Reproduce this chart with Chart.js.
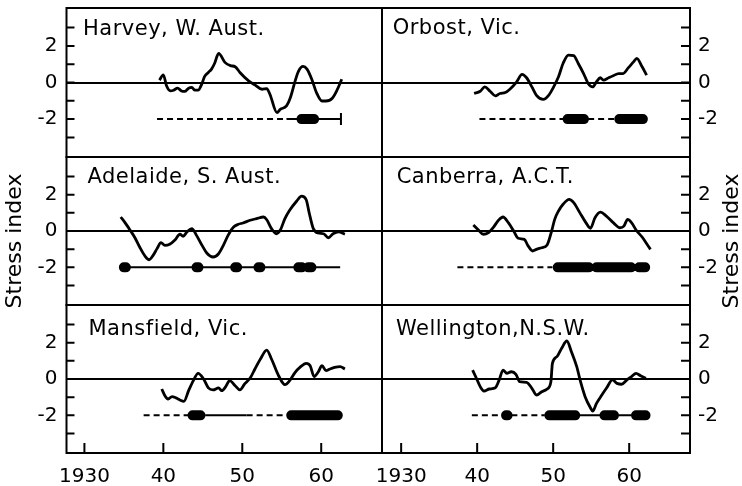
<!DOCTYPE html>
<html>
<head>
<meta charset="utf-8">
<script src="https://cdn.jsdelivr.net/npm/chart.js@4/dist/chart.umd.min.js"></script>
<style>
  html, body { margin: 0; padding: 0; background: #fff; }
  #wrap { position: relative; width: 742px; height: 486px; overflow: hidden; background: #fff; }
  #wrap canvas { position: absolute; left: 0; top: 0; }
</style>
</head>
<body>
<div id="wrap"></div>
<script>
// ticks
const xTickValues = [1930, 1940, 1950, 1960];
const xTickLabels = ['1930', '40', '50', '60'];
const yTickValues = [-3, -2, -1, 0, 1, 2, 3];
const yLabelValues = [-2, 0, 2];
const barLevel = -2;
const axisTitle = 'Stress index';

const panelNames = ['Harvey, W. Aust.', 'Orbost, Vic.', 'Adelaide, S. Aust.',
                    'Canberra, A.C.T.', 'Mansfield, Vic.', 'Wellington,N.S.W.'];

// Harvey
const harveyYears = [1939.5, 1940.0, 1940.4, 1940.9, 1941.3, 1941.8, 1942.3, 1942.7, 1943.2, 1943.6, 1944.0, 1944.4, 1944.9, 1945.2, 1945.7, 1946.1, 1946.5, 1947.0, 1947.8, 1948.5, 1949.1, 1949.7, 1950.8, 1951.6, 1952.5, 1953.1, 1953.5, 1954.4, 1954.8, 1955.6, 1956.1, 1956.7, 1957.1, 1957.7, 1958.2, 1958.8, 1959.4, 1960.1, 1960.6, 1961.4, 1962.0, 1962.6];
const harveyIndex = [0.13, 0.42, -0.18, -0.46, -0.42, -0.31, -0.46, -0.49, -0.31, -0.27, -0.42, -0.42, -0.05, 0.31, 0.55, 0.73, 1.05, 1.59, 1.10, 0.92, 0.86, 0.55, 0.09, -0.13, -0.37, -0.33, -0.64, -1.65, -1.47, -1.28, -0.82, 0.09, 0.60, 0.88, 0.73, 0.18, -0.55, -1.01, -1.01, -0.86, -0.42, 0.18];
const harveyDashed = [[1939.2, 1955.6]];
const harveySolid = [[1955.6, 1962.5]];
const harveyThick = [[1957.5, 1959.1]];
const harveyEnds = [1962.5];

// Orbost
const orbostYears = [1939.6, 1940.4, 1941.0, 1941.7, 1942.4, 1943.0, 1943.7, 1944.3, 1945.2, 1945.9, 1946.5, 1947.2, 1947.8, 1948.7, 1949.4, 1950.0, 1950.7, 1951.3, 1952.0, 1952.7, 1953.3, 1954.0, 1954.6, 1955.2, 1955.7, 1956.2, 1956.6, 1957.3, 1957.9, 1958.6, 1959.2, 1959.9, 1960.6, 1961.0, 1961.7, 1962.3];
const orbostIndex = [-0.60, -0.48, -0.24, -0.48, -0.73, -0.60, -0.55, -0.37, 0.04, 0.44, 0.26, -0.24, -0.70, -0.92, -0.70, -0.29, 0.31, 1.04, 1.50, 1.47, 1.04, 0.49, -0.05, -0.24, 0.04, 0.26, 0.13, 0.26, 0.37, 0.49, 0.49, 0.81, 1.14, 1.32, 0.86, 0.40];
const orbostDashed = [[1940.3, 1951.4], [1954.6, 1958.1]];
const orbostSolid = [];
const orbostThick = [[1951.9, 1954.05], [1958.7, 1961.8]];
const orbostEnds = [];

// Adelaide
const adelaideYears = [1934.6, 1935.1, 1935.8, 1936.4, 1937.0, 1937.7, 1938.2, 1938.7, 1939.2, 1939.7, 1940.2, 1940.8, 1941.5, 1942.1, 1942.5, 1943.0, 1943.6, 1944.2, 1944.9, 1945.5, 1946.3, 1947.0, 1947.6, 1948.2, 1948.9, 1949.5, 1950.1, 1951.0, 1951.8, 1952.7, 1953.1, 1953.7, 1954.3, 1954.8, 1955.4, 1956.0, 1956.9, 1957.5, 1958.1, 1958.5, 1959.0, 1959.6, 1960.3, 1960.9, 1961.5, 1962.2, 1963.0];
const adelaideIndex = [0.77, 0.49, 0.04, -0.37, -0.88, -1.39, -1.58, -1.34, -0.97, -0.64, -0.79, -0.73, -0.48, -0.18, -0.29, -0.05, 0.13, -0.24, -0.79, -1.21, -1.43, -1.25, -0.79, -0.24, 0.22, 0.37, 0.44, 0.59, 0.68, 0.77, 0.62, 0.13, -0.15, 0.04, 0.68, 1.14, 1.65, 1.92, 1.72, 0.95, 0.13, -0.11, -0.15, -0.37, -0.15, -0.05, -0.18];
const adelaideDashed = [];
const adelaideSolid = [[1934.7, 1962.4]];
const adelaideThick = [[1935.0, 1935.25], [1944.2, 1944.45], [1949.1, 1949.35], [1952.05, 1952.3], [1957.1, 1957.55], [1958.35, 1958.76]];
const adelaideEnds = [];

// Canberra
const canberraYears = [1939.5, 1940.2, 1940.8, 1941.5, 1942.1, 1942.8, 1943.4, 1944.1, 1944.8, 1945.4, 1946.2, 1946.7, 1947.3, 1947.8, 1948.5, 1949.2, 1949.8, 1950.2, 1950.7, 1951.3, 1952.1, 1952.7, 1953.5, 1954.3, 1954.9, 1955.5, 1956.2, 1957.0, 1957.9, 1958.8, 1959.3, 1959.8, 1960.3, 1961.0, 1961.7, 1962.3, 1962.8];
const canberraIndex = [0.33, 0.04, -0.18, -0.09, 0.18, 0.59, 0.77, 0.46, 0, -0.40, -0.46, -0.82, -1.10, -1.01, -0.92, -0.77, 0, 0.64, 1.10, 1.47, 1.74, 1.56, 1.01, 0.46, 0.15, 0.73, 1.04, 0.82, 0.46, 0.18, 0.27, 0.64, 0.46, 0, -0.33, -0.70, -1.01];
const canberraDashed = [[1937.4, 1949.9]];
const canberraSolid = [];
const canberraThick = [[1950.6, 1954.7], [1955.7, 1960.25], [1961.3, 1962.1]];
const canberraEnds = [];

// Mansfield
const mansfieldYears = [1939.8, 1940.2, 1940.6, 1941.1, 1941.6, 1942.1, 1942.6, 1943.2, 1943.8, 1944.4, 1945.1, 1945.7, 1946.3, 1947.0, 1947.4, 1947.9, 1948.4, 1949.1, 1949.7, 1950.3, 1951.0, 1951.6, 1952.3, 1953.1, 1953.7, 1954.6, 1955.4, 1956.0, 1956.7, 1957.3, 1958.1, 1958.6, 1959.1, 1959.6, 1960.1, 1960.6, 1961.1, 1961.7, 1962.4, 1963.0];
const mansfieldIndex = [-0.55, -0.92, -1.10, -0.97, -1.04, -1.15, -1.23, -0.64, -0.09, 0.31, 0, -0.49, -0.60, -0.49, -0.64, -0.42, -0.09, -0.37, -0.60, -0.27, 0.05, 0.55, 1.10, 1.59, 1.10, 0.18, -0.31, -0.09, 0.37, 0.64, 0.86, 0.73, 0.13, 0.37, 0.73, 0.46, 0.55, 0.64, 0.68, 0.55];
const mansfieldDashed = [[1937.5, 1943.2], [1950.55, 1955.6]];
const mansfieldSolid = [[1945.3, 1950.55]];
const mansfieldThick = [[1943.7, 1944.7], [1956.2, 1962.1]];
const mansfieldEnds = [];

// Wellington
const wellingtonYears = [1939.4, 1939.9, 1940.4, 1940.9, 1941.6, 1942.4, 1942.9, 1943.4, 1943.9, 1944.5, 1945.1, 1945.6, 1946.5, 1947.2, 1947.8, 1948.5, 1949.2, 1949.7, 1949.9, 1950.5, 1951.1, 1951.8, 1952.4, 1953.1, 1953.6, 1954.2, 1954.9, 1955.2, 1955.7, 1956.4, 1957.0, 1957.8, 1958.4, 1959.0, 1959.7, 1960.3, 1960.9, 1961.5, 1962.2];
const wellingtonIndex = [0.49, 0.04, -0.42, -0.66, -0.55, -0.48, -0.05, 0.49, 0.31, 0.40, 0.26, -0.15, -0.18, -0.51, -0.88, -0.70, -0.55, -0.15, 0.86, 1.23, 1.68, 2.09, 1.50, 0.68, -0.15, -0.97, -1.58, -1.76, -1.34, -0.88, -0.51, -0.05, -0.24, -0.29, -0.05, 0.13, 0.31, 0.18, 0.04];
const wellingtonDashed = [[1939.3, 1943.2], [1944.5, 1948.9]];
const wellingtonSolid = [[1953.45, 1956.16], [1958.58, 1960.33]];
const wellingtonThick = [[1943.8, 1944.0], [1949.5, 1952.9], [1956.75, 1958.0], [1960.9, 1962.15]];
const wellingtonEnds = [];

const panels = [
  { years: harveyYears, index: harveyIndex, dashed: harveyDashed, solid: harveySolid, thick: harveyThick, ends: harveyEnds },
  { years: orbostYears, index: orbostIndex, dashed: orbostDashed, solid: orbostSolid, thick: orbostThick, ends: orbostEnds },
  { years: adelaideYears, index: adelaideIndex, dashed: adelaideDashed, solid: adelaideSolid, thick: adelaideThick, ends: adelaideEnds },
  { years: canberraYears, index: canberraIndex, dashed: canberraDashed, solid: canberraSolid, thick: canberraThick, ends: canberraEnds },
  { years: mansfieldYears, index: mansfieldIndex, dashed: mansfieldDashed, solid: mansfieldSolid, thick: mansfieldThick, ends: mansfieldEnds },
  { years: wellingtonYears, index: wellingtonIndex, dashed: wellingtonDashed, solid: wellingtonSolid, thick: wellingtonThick, ends: wellingtonEnds }
];

// layout (pixels)
const W = 742, H = 486;
const colEdges = [[66.5, 382], [382, 690]];
const rowEdges = [[8, 157], [157, 305], [305, 453]];
const colRange = [[1927.73, 1967.7], [1927.48, 1968.0]];
const titleOffsets = [[16.5, 26.5], [10.7, 26.3], [21, 26.3], [14.7, 25.7], [22, 30], [14, 30]];
const FONT = '"DejaVu Sans", "Liberation Sans", sans-serif';

Chart.defaults.font.family = FONT;
Chart.defaults.font.size = 20;
Chart.defaults.color = '#000';

function spanData(spans) {
  const pts = [];
  spans.forEach(([a, b]) => {
    pts.push({ x: a, y: barLevel }, { x: b, y: barLevel }, { x: b, y: null });
  });
  return pts;
}

// frame, inward ticks and texts
const panelDecor = {
  id: 'panelDecor',
  afterDraw(chart, args, opts) {
    const { ctx, chartArea: a, scales } = chart;
    ctx.save();
    ctx.strokeStyle = '#000';
    ctx.lineWidth = 2;
    ctx.strokeRect(a.left, a.top, a.right - a.left, a.bottom - a.top);
    ctx.beginPath();
    yTickValues.forEach(v => {
      const py = scales.y.getPixelForValue(v);
      if (opts.side === 'left') { ctx.moveTo(a.left, py); ctx.lineTo(a.left + 8, py); }
      else { ctx.moveTo(a.right, py); ctx.lineTo(a.right - 9, py); }
    });
    if (opts.showX) {
      xTickValues.forEach(v => {
        const px = scales.x.getPixelForValue(v);
        ctx.moveTo(px, a.bottom);
        ctx.lineTo(px, a.bottom - 10);
      });
    }
    ctx.stroke();

    ctx.fillStyle = '#000';
    ctx.font = '21px ' + FONT;
    if ('letterSpacing' in ctx) ctx.letterSpacing = '0.5px';
    ctx.textAlign = 'left';
    ctx.textBaseline = 'alphabetic';
    ctx.fillText(opts.title, a.left + opts.tx, a.top + opts.ty);

    if (opts.axisTitle) {
      if ('letterSpacing' in ctx) ctx.letterSpacing = '0px';
      ctx.font = '22px ' + FONT;
      ctx.textAlign = 'center';
      ctx.textBaseline = 'middle';
      const ax = opts.side === 'left' ? a.left - 51.5 : a.right + 42;
      ctx.translate(ax, a.top + 84);
      ctx.rotate(-Math.PI / 2);
      ctx.fillText(axisTitle, 0, 0);
    }
    ctx.restore();
  }
};

const wrap = document.getElementById('wrap');

panels.forEach((p, i) => {
  const col = i % 2, row = Math.floor(i / 2);
  const side = col === 0 ? 'left' : 'right';
  const bottomRow = row === 2;
  const canvas = document.createElement('canvas');
  canvas.width = W;
  canvas.height = H;
  wrap.appendChild(canvas);

  const curve = p.years.map((x, k) => ({ x: x, y: p.index[k] }));

  new Chart(canvas, {
    type: 'line',
    data: {
      datasets: [
        { data: curve, borderColor: '#000', borderWidth: 2.8, pointRadius: 0,
          cubicInterpolationMode: 'monotone' },
        { data: spanData(p.thick), borderColor: '#000', borderWidth: 10,
          borderCapStyle: 'round', pointRadius: 0, tension: 0 },
        { data: spanData(p.solid), borderColor: '#000', borderWidth: 2, pointRadius: 0, tension: 0 },
        { data: spanData(p.dashed), borderColor: '#000', borderWidth: 2, borderDash: [6, 4],
          pointRadius: 0, tension: 0 },
        { data: p.ends.map(x => ({ x: x, y: barLevel })), showLine: false, pointStyle: 'line',
          rotation: 90, pointRadius: 6, borderColor: '#000', pointBorderWidth: 2 }
      ]
    },
    options: {
      responsive: false,
      devicePixelRatio: 1,
      animation: false,
      events: [],
      layout: {
        padding: {
          left: col === 0 ? 0 : colEdges[1][0],
          right: col === 0 ? W - colEdges[0][1] : 0,
          top: rowEdges[row][0],
          bottom: bottomRow ? 0 : H - rowEdges[row][1]
        }
      },
      scales: {
        x: {
          type: 'linear',
          min: colRange[col][0],
          max: colRange[col][1],
          display: bottomRow,
          position: 'bottom',
          grid: { display: false },
          border: { display: false },
          afterBuildTicks: s => { s.ticks = xTickValues.map(v => ({ value: v })); },
          afterFit: s => { s.height = bottomRow ? H - rowEdges[2][1] : 0; },
          ticks: {
            callback: v => xTickLabels[xTickValues.indexOf(v)],
            autoSkip: false, maxRotation: 0, padding: 4,
            font: { size: 20 }, color: '#000'
          }
        },
        y: {
          type: 'linear',
          position: side,
          min: -4.07,
          max: 4.07,
          border: { display: false },
          grid: {
            drawTicks: false,
            lineWidth: 2,
            color: c => (c.tick && c.tick.value === 0) ? '#000' : 'rgba(0,0,0,0)'
          },
          afterBuildTicks: s => { s.ticks = yTickValues.map(v => ({ value: v })); },
          afterFit: s => {
            s.width = side === 'left' ? colEdges[0][0] : W - colEdges[1][1];
            s.paddingTop = 0;
            s.paddingBottom = 0;
          },
          ticks: {
            callback: v => yLabelValues.includes(v) ? String(v) : '',
            autoSkip: false, padding: side === 'left' ? 9 : 8,
            font: { size: 20 }, color: '#000'
          }
        }
      },
      plugins: {
        legend: { display: false },
        tooltip: { enabled: false },
        panelDecor: {
          side: side,
          showX: bottomRow,
          title: panelNames[i],
          tx: titleOffsets[i][0],
          ty: titleOffsets[i][1],
          axisTitle: row === 1
        }
      }
    },
    plugins: [panelDecor]
  });
});
</script>
</body>
</html>
